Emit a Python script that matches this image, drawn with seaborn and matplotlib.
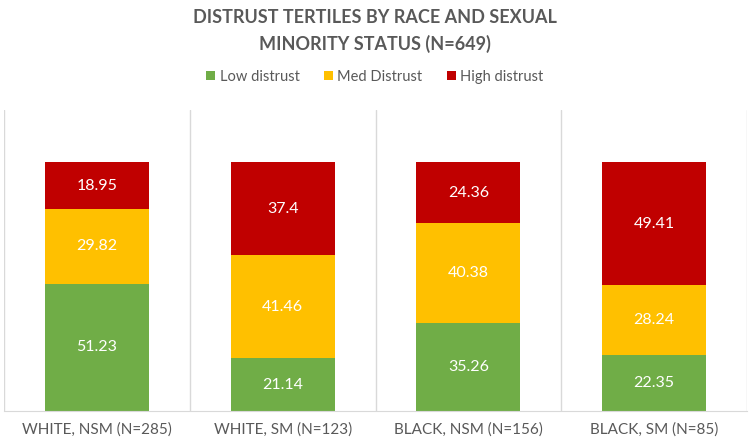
import numpy as np
import pandas as pd
import matplotlib
matplotlib.use("Agg")
import matplotlib.pyplot as plt
import seaborn as sns
from matplotlib.patches import Patch

groups = ['WHITE, NSM (N=285)', 'WHITE, SM (N=123)', 'BLACK, NSM (N=156)', 'BLACK, SM (N=85)']
lowDistrust = [51.23, 21.14, 35.26, 22.35]
medDistrust = [29.82, 41.46, 40.38, 28.24]
highDistrust = [18.95, 37.4, 24.36, 49.41]
seriesNames = ['Low distrust', 'Med Distrust', 'High distrust']
seriesColors = ['#70AD47', '#FFC000', '#C00000']

sns.set_style("white")
plt.rcParams['font.family'] = ['Lato', 'DejaVu Sans']

df = pd.DataFrame({'group': groups, 'low': lowDistrust, 'med': medDistrust, 'high': highDistrust})
df['lowTop'] = df['low']
df['medTop'] = df['low'] + df['med']
df['highTop'] = df['medTop'] + df['high']

fig = plt.figure(figsize=(7.5, 4.4), dpi=100)
ax = fig.add_axes([4 / 750, 29 / 440, 743 / 750, 301 / 440])

# draw tallest first so shorter stacks sit on top
for col, color in zip(['highTop', 'medTop', 'lowTop'], seriesColors[::-1]):
    sns.barplot(data=df, x='group', y=col, color=color, width=0.56,
                saturation=1, ax=ax, linewidth=0)

# segment labels
bottoms = np.zeros(len(groups))
for vals in [lowDistrust, medDistrust, highDistrust]:
    for i, v in enumerate(vals):
        ax.text(i, bottoms[i] + v / 2, f"{v:g}", ha='center', va='center',
                color='white', fontsize=11.5)
    bottoms += np.array(vals)

ax.set_ylim(0, 121)
ax.set_xlim(-0.5, len(groups) - 0.5)
ax.set_yticks([])
ax.set_xlabel('')
ax.set_ylabel('')

# category separators
for xPos in np.arange(-0.5, len(groups), 1.0):
    ax.axvline(xPos, color='#D9D9D9', linewidth=1, zorder=0)

for side in ['top', 'right', 'left']:
    ax.spines[side].set_visible(False)
ax.spines['bottom'].set_color('#D9D9D9')

ax.tick_params(axis='x', length=0, pad=8, labelsize=11, labelcolor='#595959')

fig.text(0.5, 1 - 31 / 440, 'DISTRUST TERTILES BY RACE AND SEXUAL\nMINORITY STATUS (N=649)',
         ha='center', va='center', fontsize=13, fontweight='bold',
         color='#595959', linespacing=1.55)

handles = [Patch(facecolor=c, edgecolor='none') for c in seriesColors]
fig.legend(handles, seriesNames, loc='center', bbox_to_anchor=(0.5, 1 - 77 / 440),
           ncol=3, frameon=False, fontsize=10.5, handlelength=0.6, handleheight=0.6,
           handletextpad=0.3, columnspacing=1.7, labelcolor='#595959')

fig.savefig('out.png', dpi=100)
